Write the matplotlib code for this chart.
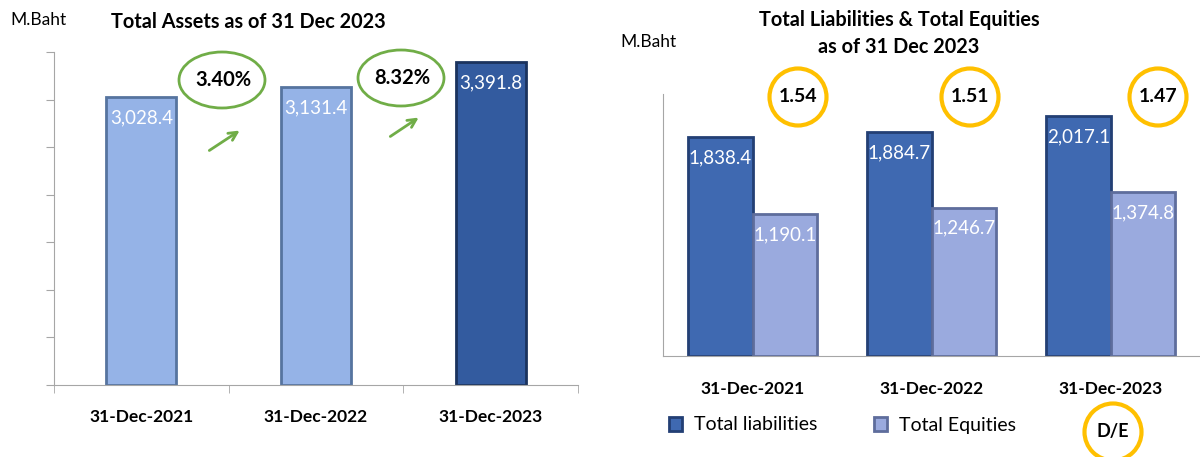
import matplotlib.pyplot as plt
import matplotlib.patches as mpatches
import numpy as np

# data
dates = ['31-Dec-2021', '31-Dec-2022', '31-Dec-2023']
total_assets = [3028.4, 3131.4, 3391.8]
asset_growth = ['3.40%', '8.32%']
total_liabilities = [1838.4, 1884.7, 2017.1]
total_equities = [1190.1, 1246.7, 1374.8]
de_ratio = ['1.54', '1.51', '1.47']

plt.rcParams['font.family'] = ['Lato', 'DejaVu Sans']

W, H = 1200, 457
fig = plt.figure(figsize=(W / 100, H / 100), dpi=100)

def px_axes(x0, y0, x1, y1):
    # axes from pixel box (top-left origin)
    return fig.add_axes([x0 / W, 1 - y1 / H, (x1 - x0) / W, (y1 - y0) / H])

light = '#95B3E7'
dark = '#335B9F'
liab_c = '#3F69B1'
eq_c = '#9AAADE'
spine_c = '#A6A6A6'

# ---------------- left chart ----------------
ax1 = px_axes(54, 52, 578, 385)
x = np.arange(len(dates))
cols = [light, light, dark]
edges = ['#56749F', '#56749F', '#1B335E']
ax1.bar(x, total_assets, width=0.40, color=cols, edgecolor=edges, linewidth=2)
ax1.set_xlim(-0.5, 2.5)
ax1.set_ylim(0, 3500)
ax1.set_yticks(np.arange(0, 3501, 500))
ax1.set_yticklabels([])
ax1.tick_params(axis='y', length=6, color=spine_c)
ax1.set_xticks(x)
ax1.set_xticklabels(dates, fontweight='bold', fontsize=12.5)
ax1.set_xticks([-0.5, 0.5, 1.5, 2.5], minor=True)
ax1.tick_params(axis='x', which='major', length=0, pad=17)
ax1.tick_params(axis='x', which='minor', length=6, color=spine_c)
for s in ['top', 'right']:
    ax1.spines[s].set_visible(False)
for s in ['left', 'bottom']:
    ax1.spines[s].set_color(spine_c)
for i, v in enumerate(total_assets):
    ax1.annotate(f'{v:,.1f}', (x[i], v), xytext=(0, -15), textcoords='offset points',
                 ha='center', va='center', color='white', fontsize=13.5)

# ---------------- right chart ----------------
ax2 = px_axes(663, 94, 1200, 356)
bw = 0.36
ax2.bar(x - bw / 2, total_liabilities, width=bw, color=liab_c, edgecolor='#233F74',
        linewidth=2, label='Total liabilities')
ax2.bar(x + bw / 2, total_equities, width=bw, color=eq_c, edgecolor='#5E6D9C',
        linewidth=2, label='Total Equities')
ax2.set_xlim(-0.5, 2.5)
ax2.set_ylim(0, 2200)
ax2.set_yticks([])
ax2.set_xticks(x)
ax2.set_xticklabels(dates, fontweight='bold', fontsize=12.5)
ax2.tick_params(axis='x', length=0, pad=18)
for s in ['top', 'right']:
    ax2.spines[s].set_visible(False)
for s in ['left', 'bottom']:
    ax2.spines[s].set_color(spine_c)
for i in range(len(dates)):
    ax2.annotate(f'{total_liabilities[i]:,.1f}', (x[i] - bw / 2, total_liabilities[i]),
                 xytext=(0, -15), textcoords='offset points', ha='center', va='center',
                 color='white', fontsize=13.5)
    ax2.annotate(f'{total_equities[i]:,.1f}', (x[i] + bw / 2, total_equities[i]),
                 xytext=(0, -15), textcoords='offset points', ha='center', va='center',
                 color='white', fontsize=13.5)
ax2.legend(loc='center left', bbox_to_anchor=(651 / W, 1 - 425 / H),
           bbox_transform=fig.transFigure, ncol=2, frameon=False, fontsize=14,
           handlelength=0.7, handleheight=0.7, handletextpad=0.6, columnspacing=2.9)

# ---------------- overlay: titles & callouts (pixel coords) ----------------
ov = fig.add_axes([0, 0, 1, 1], zorder=5)
ov.set_xlim(0, W)
ov.set_ylim(H, 0)
ov.axis('off')

ov.text(10, 20, 'M.Baht', fontsize=12.5, va='center', ha='left')
ov.text(248, 22, 'Total Assets as of 31 Dec 2023', fontsize=14.3, fontweight='bold',
        ha='center', va='center')
ov.text(620, 42, 'M.Baht', fontsize=12.5, va='center', ha='left')
ov.text(899, 20, 'Total Liabilities & Total Equities', fontsize=14.3, fontweight='bold',
        ha='center', va='center')
ov.text(899, 47, 'as of 31 Dec 2023', fontsize=14.3, fontweight='bold',
        ha='center', va='center')

green = '#70AD47'
for (cx, cy), txt in zip([(222, 80), (401, 78)], asset_growth):
    ov.add_patch(mpatches.Ellipse((cx, cy), 86, 56, fill=False, edgecolor=green, lw=2))
    ov.text(cx + 1, cy, txt, fontsize=14.5, fontweight='bold', ha='center', va='center')
for (x0, y0, x1, y1) in [(207, 152, 242, 129), (388, 138, 421, 116)]:
    ov.annotate('', xy=(x1, y1), xytext=(x0, y0),
                arrowprops=dict(arrowstyle='->', color=green, lw=2, mutation_scale=15))

gold = '#FFC000'
for cx, txt in zip([798, 970, 1158], de_ratio):
    ov.add_patch(mpatches.Ellipse((cx, 97), 57, 57, fill=False, edgecolor=gold, lw=3))
    ov.text(cx, 97, txt, fontsize=14, fontweight='bold', ha='center', va='center')
ov.add_patch(mpatches.Ellipse((1113, 432), 57, 57, fill=False, edgecolor=gold, lw=3))
ov.text(1113, 432, 'D/E', fontsize=13, fontweight='bold', ha='center', va='center')

fig.savefig('out.png', dpi=100)
